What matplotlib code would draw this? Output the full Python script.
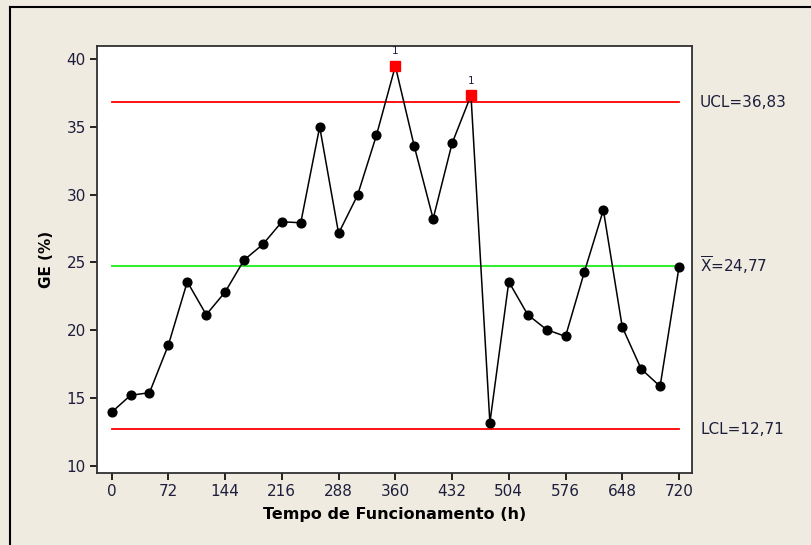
import matplotlib
matplotlib.use("Agg")
import matplotlib.pyplot as plt
from matplotlib.lines import Line2D
import numpy as np

hours = [0, 24, 48, 72, 96, 120, 144, 168, 192, 216, 240, 264, 288, 312, 336,
         360, 384, 408, 432, 456, 480, 504, 528, 552, 576, 600, 624, 648, 672, 696, 720]
ge = [13.96, 15.21, 15.40, 18.92, 23.58, 21.15, 22.82, 25.18, 26.34, 28.00, 27.93,
      35.00, 27.15, 29.95, 34.37, 39.48, 33.58, 28.22, 33.78, 37.32, 13.19, 23.58,
      21.15, 20.05, 19.55, 24.32, 28.87, 20.24, 17.15, 15.87, 24.65]
ucl = 36.83
center = 24.77
lcl = 12.71
xticks = [0, 72, 144, 216, 288, 360, 432, 504, 576, 648, 720]
yticks = [10, 15, 20, 25, 30, 35, 40]

bg = "#EFEBE1"
txtc = "#1e1e3c"
plt.rcParams['font.family'] = ['DejaVu Sans']

fig = plt.figure(figsize=(8.11, 5.45), dpi=100, facecolor=bg)
W, H = 811, 545
ax = fig.add_axes([97 / W, 1 - 473 / H, (692 - 97) / W, (473 - 46) / H])
ax.set_facecolor("white")

# outer frame
fig.add_artist(Line2D([10 / W, 10 / W], [0, 1 - 7 / H], transform=fig.transFigure, color="black", lw=1.5))
fig.add_artist(Line2D([10 / W, 1], [1 - 7 / H, 1 - 7 / H], transform=fig.transFigure, color="black", lw=1.5))

x0, x1 = hours[0], hours[-1]
ax.plot([x0, x1], [ucl, ucl], color="#FF0000", lw=1.3, zorder=2)
ax.plot([x0, x1], [lcl, lcl], color="#FF0000", lw=1.3, zorder=2)
ax.plot([x0, x1], [center, center], color="#33EE33", lw=1.5, zorder=2)

ax.plot(hours, ge, color="black", lw=1.1, marker="o", ms=6.3,
        markerfacecolor="black", markeredgecolor="black", zorder=3)

hv = np.array(hours)
gv = np.array(ge)
out = gv > ucl
ax.plot(hv[out], gv[out], linestyle="none", marker="s", ms=7,
        markerfacecolor="#FF0000", markeredgecolor="#FF0000", zorder=4)
for xh, yv in zip(hv[out], gv[out]):
    ax.annotate("1", (xh, yv), xytext=(0, 7), textcoords="offset points",
                ha="center", va="bottom", fontsize=7.5, color=txtc)

ax.set_xlim(-18.6, 736.5)
ax.set_ylim(9.48, 40.96)
ax.set_xticks(xticks)
ax.set_yticks(yticks)
ax.tick_params(direction="out", length=5, width=1.2, colors="black",
               labelcolor=txtc, labelsize=11, pad=3)
for s in ax.spines.values():
    s.set_linewidth(1.3)
    s.set_color("#303030")

ax.set_xlabel("Tempo de Funcionamento (h)", fontsize=11.5, fontweight="bold", color="black", labelpad=6)
ax.set_ylabel("GE (%)", fontsize=11, fontweight="bold", color="black", labelpad=9)

tr = ax.get_yaxis_transform()
xt = 1 + 8 / 595
ax.text(xt, ucl, "UCL=36,83", transform=tr, ha="left", va="center", fontsize=11, color=txtc, clip_on=False)
ax.text(xt, center, r"$\overline{\mathrm{X}}$=24,77", transform=tr, ha="left", va="center", fontsize=11, color=txtc, clip_on=False)
ax.text(xt, lcl, "LCL=12,71", transform=tr, ha="left", va="center", fontsize=11, color=txtc, clip_on=False)

fig.savefig("out.png", dpi=100, facecolor=bg)
